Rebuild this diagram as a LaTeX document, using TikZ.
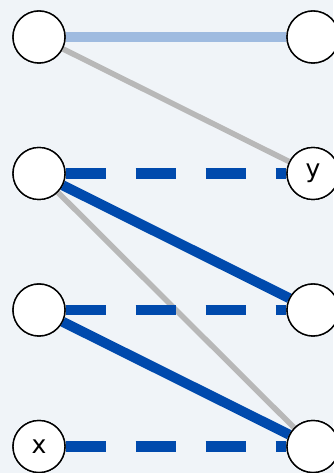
\documentclass[tikz,border=0pt]{standalone}
\usepackage{fontspec}
\setsansfont{DejaVu Sans}
\usepackage{xcolor}
\definecolor{bgpanel}{HTML}{F0F4F8}
\definecolor{matchblue}{HTML}{004AAD}
\definecolor{paleblue}{HTML}{9FBBE0}
\definecolor{edgegray}{HTML}{B8B8B8}
\usetikzlibrary{positioning}

\begin{document}
\begin{tikzpicture}[x=1pt, y=1pt,
        vertex/.style={circle, draw=black, line width=1.4pt, fill=white,
            minimum size=52pt, inner sep=0pt, font=\sffamily\fontsize{25}{25}\selectfont},
        matched/.style={matchblue, line width=10pt},
        free/.style={matchblue, line width=10.5pt, dash pattern=on 40pt off 30pt},
        old/.style={paleblue, line width=10.5pt},
        unused/.style={edgegray, line width=5.5pt}]
    \fill[bgpanel] (0, 0) rectangle (333, 473);
    \useasboundingbox (0, 0) rectangle (333, 473);

    % left and right columns
    \node[vertex] (l1) at (39, 436) {};
    \node[vertex] (l2) at (39, 299.5) {};
    \node[vertex] (l3) at (39, 163) {};
    \node[vertex] (l4) at (39, 26.5) {x};
    \node[vertex] (r1) at (313, 436) {};
    \node[vertex] (r2) at (313, 299.5) {y};
    \node[vertex] (r3) at (313, 163) {};
    \node[vertex] (r4) at (313, 26.5) {};

    % edges, gray ones first
    \draw[unused] (l1) -- (r2);
    \draw[unused] (l2) -- (r4);
    \draw[old] (l1) -- (r1);
    \draw[free] (l2) -- (r2);
    \draw[free] (l3) -- (r3);
    \draw[free] (l4) -- (r4);
    \draw[matched] (l2) -- (r3);
    \draw[matched] (l3) -- (r4);

    % redraw the vertices on top
    \foreach \v/\t in {l1/, l2/, l3/, l4/x, r1/, r2/y, r3/, r4/} {
        \node[vertex] at (\v) {\t};
    }
\end{tikzpicture}
\end{document}
